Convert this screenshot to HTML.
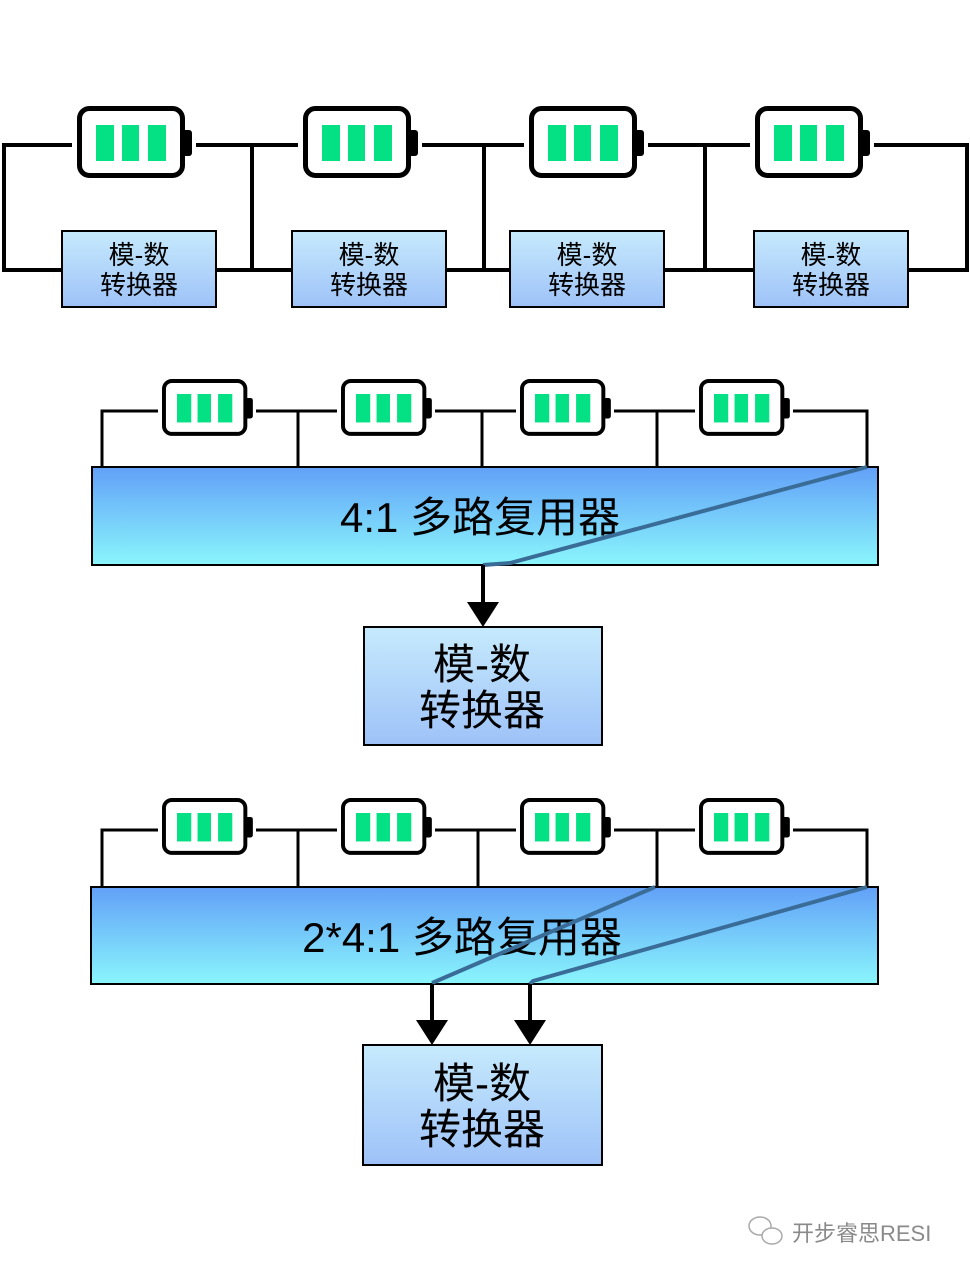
<!DOCTYPE html>
<html><head><meta charset="utf-8"><style>
html,body{margin:0;padding:0;background:#fff;}
svg{display:block;}
text{font-family:"Liberation Sans","Noto Sans CJK SC",sans-serif;fill:#000;}
</style></head><body>
<svg width="970" height="1275" viewBox="0 0 970 1275" xmlns="http://www.w3.org/2000/svg">
<defs>
<linearGradient id="adc" x1="0" y1="0" x2="0" y2="1"><stop offset="0" stop-color="#c6eafc"/><stop offset="1" stop-color="#9ec2f8"/></linearGradient>
<linearGradient id="mux" x1="0" y1="0" x2="0" y2="1"><stop offset="0" stop-color="#62a0f8"/><stop offset="1" stop-color="#8af6fc"/></linearGradient>
<g id="bat">
<rect x="2.5" y="2.5" width="103" height="67" rx="10" fill="#fff" stroke="#000" stroke-width="5"/>
<rect x="105" y="24" width="10" height="26" rx="3" fill="#000"/>
<rect x="19" y="19" width="18" height="36" fill="#04e084"/>
<rect x="45" y="19" width="17" height="36" fill="#04e084"/>
<rect x="71" y="19" width="18" height="36" fill="#04e084"/>
</g>
</defs>

<!-- TOP ROW -->
<g stroke="#000" stroke-width="4" fill="none">
<polyline points="72,145 4,145 4,270 62,270"/>
<line x1="196" y1="145" x2="298" y2="145"/>
<line x1="422" y1="145" x2="524" y2="145"/>
<line x1="648" y1="145" x2="750" y2="145"/>
<polyline points="874,145 967,145 967,270 908,270"/>
<line x1="252" y1="145" x2="252" y2="270"/>
<line x1="484" y1="145" x2="484" y2="270"/>
<line x1="705" y1="145" x2="705" y2="270"/>
<line x1="216" y1="270" x2="292" y2="270"/>
<line x1="446" y1="270" x2="510" y2="270"/>
<line x1="664" y1="270" x2="754" y2="270"/>
</g>
<use href="#bat" x="77" y="106"/>
<use href="#bat" x="303" y="106"/>
<use href="#bat" x="529" y="106"/>
<use href="#bat" x="755" y="106"/>
<g stroke="#000" stroke-width="2" fill="url(#adc)">
<rect x="62" y="231" width="154" height="76"/>
<rect x="292" y="231" width="154" height="76"/>
<rect x="510" y="231" width="154" height="76"/>
<rect x="754" y="231" width="154" height="76"/>
</g>
<g font-size="26" text-anchor="middle">
<text x="139" y="264">模-数</text><text x="139" y="294">转换器</text>
<text x="369" y="264">模-数</text><text x="369" y="294">转换器</text>
<text x="587" y="264">模-数</text><text x="587" y="294">转换器</text>
<text x="831" y="264">模-数</text><text x="831" y="294">转换器</text>
</g>

<!-- MIDDLE -->
<g stroke="#000" stroke-width="3" fill="none">
<polyline points="158,411 102,411 102,467"/>
<line x1="256" y1="411" x2="337" y2="411"/>
<line x1="435" y1="411" x2="516" y2="411"/>
<line x1="614" y1="411" x2="695" y2="411"/>
<polyline points="793,411 867,411 867,467"/>
<line x1="298" y1="411" x2="298" y2="467"/>
<line x1="482" y1="411" x2="482" y2="467"/>
<line x1="657" y1="411" x2="657" y2="467"/>
</g>
<use href="#bat" transform="translate(162,379) scale(0.79)"/>
<use href="#bat" transform="translate(341,379) scale(0.79)"/>
<use href="#bat" transform="translate(520,379) scale(0.79)"/>
<use href="#bat" transform="translate(699,379) scale(0.79)"/>
<rect x="92" y="467" width="786" height="98" fill="url(#mux)" stroke="#000" stroke-width="2"/>
<text x="480" y="532" font-size="42" text-anchor="middle">4:1 多路复用器</text>
<polyline points="867,467 510,563 483,565" stroke="#3a6c98" stroke-width="4" fill="none"/>
<line x1="483" y1="565" x2="483" y2="605" stroke="#000" stroke-width="4"/>
<polygon points="467,602 499,602 483,627" fill="#000"/>
<rect x="364" y="627" width="238" height="118" fill="url(#adc)" stroke="#000" stroke-width="2"/>
<g font-size="42" text-anchor="middle">
<text x="482" y="679">模-数</text><text x="482" y="725">转换器</text>
</g>

<!-- BOTTOM -->
<g stroke="#000" stroke-width="3" fill="none">
<polyline points="158,830 102,830 102,887"/>
<line x1="256" y1="830" x2="337" y2="830"/>
<line x1="435" y1="830" x2="516" y2="830"/>
<line x1="614" y1="830" x2="695" y2="830"/>
<polyline points="793,830 867,830 867,887"/>
<line x1="298" y1="830" x2="298" y2="887"/>
<line x1="478" y1="830" x2="478" y2="887"/>
<line x1="657" y1="830" x2="657" y2="887"/>
</g>
<use href="#bat" transform="translate(162,798) scale(0.79)"/>
<use href="#bat" transform="translate(341,798) scale(0.79)"/>
<use href="#bat" transform="translate(520,798) scale(0.79)"/>
<use href="#bat" transform="translate(699,798) scale(0.79)"/>
<rect x="91" y="887" width="787" height="97" fill="url(#mux)" stroke="#000" stroke-width="2"/>
<text x="462" y="952" font-size="42" text-anchor="middle">2*4:1 多路复用器</text>
<g stroke="#3a6c98" stroke-width="4" fill="none">
<polyline points="655,887 432,983"/>
<polyline points="867,887 533,981 530,984"/>
</g>
<g stroke="#000" stroke-width="4">
<line x1="432" y1="984" x2="432" y2="1022"/>
<line x1="530" y1="984" x2="530" y2="1022"/>
</g>
<polygon points="416,1020 448,1020 432,1045" fill="#000"/>
<polygon points="514,1020 546,1020 530,1045" fill="#000"/>
<rect x="363" y="1045" width="239" height="120" fill="url(#adc)" stroke="#000" stroke-width="2"/>
<g font-size="42" text-anchor="middle">
<text x="482" y="1098">模-数</text><text x="482" y="1144">转换器</text>
</g>

<!-- watermark -->
<g stroke="#aaa" stroke-width="1.5" fill="#fff">
<ellipse cx="760" cy="1226" rx="11" ry="9"/>
<ellipse cx="772" cy="1236" rx="10" ry="8"/>
</g>
<text x="792" y="1241" font-size="22" fill="#888" style="fill:#8a8a8a">开步睿思RESI</text>
</svg>
</body></html>
